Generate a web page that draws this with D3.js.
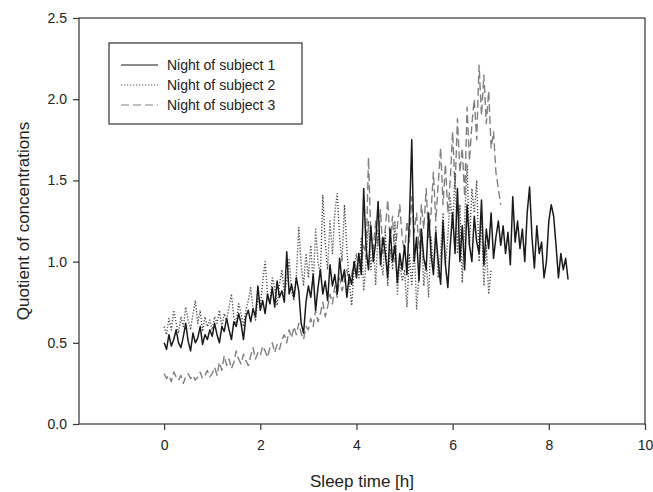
<!DOCTYPE html>
<html><head><meta charset="utf-8">
<script src="https://cdn.jsdelivr.net/npm/d3@7"></script>
<style>body{margin:0;background:#fff}svg{display:block}text{font-family:"Liberation Sans",Arial,sans-serif}</style>
</head><body><svg id="c" width="653" height="492"></svg>
<script>
const seriesNames = ["Night of subject 1", "Night of subject 2", "Night of subject 3"];
const sampleStepHours = 0.05;
const xTicks = [0, 2, 4, 6, 8, 10];
const yTicks = [0, 0.5, 1.0, 1.5, 2.0, 2.5];
const subject1 = [
0.50,0.46,0.55,0.48,0.52,0.58,0.50,0.47,0.54,0.62,0.51,0.45,0.56,0.50,0.53,0.60,0.49,0.55,0.52,0.58,
0.54,0.62,0.55,0.50,0.60,0.57,0.65,0.58,0.52,0.63,0.60,0.68,0.62,0.52,0.66,0.70,0.63,0.71,0.66,0.85,
0.70,0.76,0.68,0.80,0.74,0.84,0.72,0.88,0.78,0.82,0.75,1.06,0.80,0.86,0.78,0.90,0.82,0.62,0.56,0.75,
0.85,0.78,0.92,0.70,0.84,0.95,0.80,0.88,0.76,0.98,0.85,0.92,0.80,1.02,0.88,0.95,0.78,0.92,0.86,1.00,
0.90,1.05,0.92,1.45,1.08,0.95,1.22,1.00,1.12,1.37,0.98,1.15,1.05,0.90,1.20,1.00,1.10,0.87,1.05,0.95,
1.10,0.92,1.25,1.75,1.00,1.15,0.88,1.20,1.02,0.95,1.30,1.05,0.92,1.18,1.00,0.86,1.25,0.98,0.84,1.10,
1.30,1.05,1.45,1.00,1.22,0.95,1.35,1.10,1.00,1.28,1.12,1.05,1.38,0.98,1.20,1.08,1.30,1.02,1.15,1.25,
1.10,1.22,1.05,1.18,0.98,1.40,1.12,1.25,1.08,1.20,1.00,1.30,1.46,1.15,0.96,1.22,1.05,1.12,0.90,1.00,
1.25,1.35,1.28,1.10,0.90,1.05,0.95,1.02,0.89];
const subject2 = [
0.60,0.55,0.65,0.58,0.70,0.62,0.56,0.66,0.60,0.72,0.64,0.58,0.68,0.76,0.62,0.70,0.57,0.66,0.60,0.64,
0.58,0.66,0.62,0.70,0.60,0.68,0.64,0.72,0.80,0.66,0.62,0.74,0.68,0.60,0.70,0.76,0.84,0.70,0.64,0.78,
0.72,0.88,1.00,0.80,0.74,0.90,0.84,0.73,0.86,0.95,0.80,0.88,1.02,0.82,0.76,0.92,1.21,0.98,0.85,1.05,
0.90,1.10,0.86,1.20,1.00,0.92,1.41,1.12,0.95,1.25,1.05,1.30,1.42,1.15,1.00,1.35,1.08,0.88,0.73,0.95,
1.05,0.90,1.15,0.82,1.00,1.25,0.95,1.10,0.86,1.20,1.02,0.92,1.18,0.85,1.08,0.95,1.25,0.80,1.00,0.88,
0.95,0.72,1.05,0.85,1.10,0.71,0.92,1.20,0.85,1.00,0.78,1.15,0.95,1.22,0.90,1.05,1.30,0.98,1.15,1.40,
1.20,1.55,1.05,1.35,0.87,1.25,1.60,1.10,1.45,1.30,1.50,1.00,1.25,0.85,1.10,0.80,0.95];
const subject3 = [
0.31,0.28,0.30,0.26,0.32,0.29,0.27,0.30,0.25,0.29,0.31,0.28,0.30,0.27,0.29,0.32,0.28,0.30,0.33,0.29,
0.31,0.35,0.30,0.38,0.33,0.42,0.36,0.40,0.34,0.38,0.45,0.40,0.37,0.43,0.39,0.36,0.42,0.47,0.40,0.44,
0.42,0.48,0.45,0.41,0.47,0.50,0.44,0.49,0.46,0.52,0.55,0.50,0.58,0.53,0.60,0.55,0.62,0.56,0.52,0.60,
0.58,0.65,0.60,0.70,0.63,0.68,0.75,0.66,0.72,0.80,0.74,0.85,0.78,0.90,0.82,0.88,0.95,0.86,0.92,1.00,
0.94,1.05,0.98,1.10,1.02,1.64,1.15,1.08,1.25,1.10,1.32,1.05,1.20,1.38,1.12,1.28,1.00,1.22,1.35,1.15,
1.05,1.25,1.12,1.40,1.18,1.30,1.08,1.35,1.20,1.45,1.15,1.30,1.55,1.25,1.48,1.70,1.35,1.60,1.30,1.50,
1.80,1.45,1.88,1.55,1.70,1.40,1.95,1.62,1.85,2.00,1.75,2.21,1.90,2.15,1.85,2.05,1.70,1.80,1.55,1.45,1.35];
const allSeries = [subject1, subject2, subject3];
const styles = [
  {stroke:"#1a1a1a", width:1.5, dash:null},
  {stroke:"#4a4a4a", width:1.4, dash:"1.2,1.8"},
  {stroke:"#808080", width:1.4, dash:"8,4"}
];

const svg = d3.select("#c");
const L = 79, R = 645, T = 18, B = 424;
const x = d3.scaleLinear().domain([-1.77, 10]).range([L, R]);
const y = d3.scaleLinear().domain([0, 2.5]).range([B, T]);

svg.append("rect").attr("x", L).attr("y", T).attr("width", R-L).attr("height", B-T)
  .attr("fill","none").attr("stroke","#333").attr("stroke-width",1.2);

const xa = svg.append("g").attr("transform",`translate(0,${B})`)
  .call(d3.axisBottom(x).tickValues(xTicks).tickFormat(d3.format("d")).tickSize(6).tickPadding(10));
const ya = svg.append("g").attr("transform",`translate(${L},0)`)
  .call(d3.axisLeft(y).tickValues(yTicks).tickFormat(d3.format(".1f")).tickSize(6).tickPadding(6));
[xa, ya].forEach(a => {
  a.select(".domain").remove();
  a.selectAll("line").attr("stroke","#333").attr("stroke-width",1.2);
  a.selectAll("text").attr("font-size",14).attr("fill","#222")
    .attr("font-family","'Liberation Sans',Arial,sans-serif");
});

const line = d3.line().x((d,i) => x(i*sampleStepHours)).y(d => y(d));
// draw dashed first, then dotted, then solid on top
[2,1,0].forEach(k => {
  svg.append("path").datum(allSeries[k]).attr("d", line).attr("fill","none")
    .attr("stroke", styles[k].stroke).attr("stroke-width", styles[k].width)
    .attr("stroke-dasharray", styles[k].dash).attr("stroke-linejoin","round");
});

svg.append("text").attr("x", (L+R)/2).attr("y", 487).attr("text-anchor","middle")
  .attr("font-size",17).attr("fill","#222").text("Sleep time [h]");
svg.append("text").attr("transform",`translate(23,${(T+B)/2}) rotate(-90)`)
  .attr("text-anchor","middle").attr("dominant-baseline","central")
  .attr("font-size",17).attr("fill","#222").text("Quotient of concentrations");

const lg = svg.append("g");
lg.append("rect").attr("x",109).attr("y",43).attr("width",193).attr("height",81)
  .attr("fill","#fff").attr("stroke","#333").attr("stroke-width",1.2);
seriesNames.forEach((n,k) => {
  const yy = 65 + k*20;
  lg.append("line").attr("x1",121).attr("x2",158).attr("y1",yy).attr("y2",yy)
    .attr("stroke", styles[k].stroke).attr("stroke-width", 1.2)
    .attr("stroke-dasharray", styles[k].dash);
  lg.append("text").attr("x",167).attr("y",yy).attr("dominant-baseline","central")
    .attr("font-size",14).attr("fill","#222").text(n);
});
</script></body></html>
